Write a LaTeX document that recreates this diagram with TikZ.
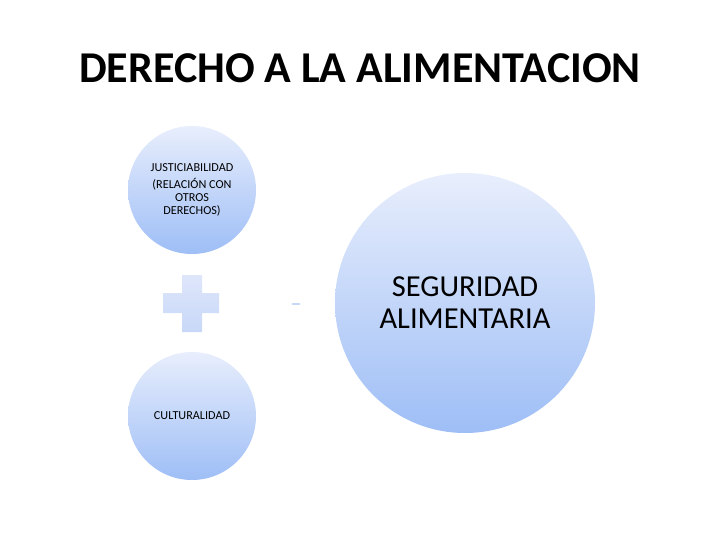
\documentclass[tikz,border=0pt]{standalone}
\usepackage{fontspec}
\setmainfont{Carlito}
\usetikzlibrary{shapes.geometric}

\definecolor{circtop}{RGB}{232,238,252}
\definecolor{circbot}{RGB}{158,190,246}
\definecolor{plustop}{RGB}{222,230,250}
\definecolor{plusbot}{RGB}{200,216,248}

\tikzset{
  bubble/.style={circle, top color=circtop, bottom color=circbot, align=center, inner sep=0pt},
  small/.style={font=\fontsize{12.2}{13}\selectfont}
}

\begin{document}
\begin{tikzpicture}[x=1pt,y=-1pt]
      \useasboundingbox (0,0) rectangle (720,540);
      \node (title) at (360,68) {\fontsize{44}{50}\selectfont\bfseries DERECHO A LA ALIMENTACION};
      \node[bubble, minimum size=128pt, small] (just) at (192,190) {JUSTICIABILIDAD\\[4pt](RELACIÓN CON\\OTROS\\DERECHOS)};
      \node[bubble, minimum size=128pt, small] (cult) at (192,416) {CULTURALIDAD};
      \node[bubble, minimum size=260pt, font=\fontsize{30.5}{32}\selectfont] (seg) at (465,303) {SEGURIDAD\\ALIMENTARIA};
      \shade[top color=plustop, bottom color=plusbot] (182,275) -- (202,275) -- (202,293) -- (219,293) -- (219,313) -- (202,313) -- (202,332) -- (182,332) -- (182,313) -- (163,313) -- (163,293) -- (182,293) -- cycle;
      \fill[plusbot] (292,302.5) rectangle (300,304.5);
\end{tikzpicture}
\end{document}
